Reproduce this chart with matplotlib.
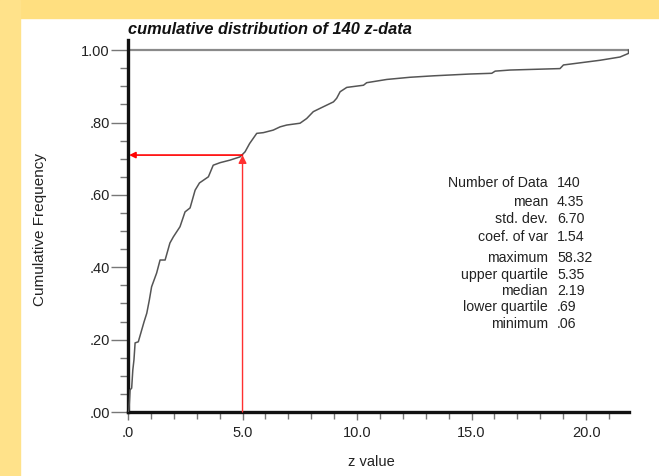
import matplotlib
matplotlib.use("Agg")
import matplotlib.pyplot as plt
from matplotlib.patches import Rectangle
from matplotlib.ticker import MultipleLocator, FixedLocator, FixedFormatter

plt.rcParams['font.family'] = ['Liberation Sans', 'DejaVu Sans']

# cumulative curve (z value, cumulative frequency)
z_vals = [0.0, 0.04, 0.09, 0.16, 0.21, 0.26, 0.31, 0.45, 0.60, 0.70, 0.82, 0.93,
          1.03, 1.25, 1.40, 1.62, 1.83, 1.98, 2.27, 2.49, 2.71, 2.93, 3.12, 3.51,
          3.72, 4.02, 4.45, 4.89, 5.11, 5.31, 5.62, 5.91, 6.34, 6.64, 6.93, 7.51,
          7.80, 8.09, 8.38, 8.97, 9.11, 9.26, 9.55, 10.28, 10.42, 11.30, 12.31,
          13.33, 14.93, 15.88, 16.03, 16.68, 18.86, 19.01, 20.61, 21.48, 21.85, 21.85]
cum_freq = [0.0, 0.006, 0.061, 0.066, 0.116, 0.144, 0.191, 0.194, 0.227, 0.249, 0.273, 0.309,
            0.346, 0.384, 0.420, 0.420, 0.467, 0.484, 0.512, 0.553, 0.564, 0.613, 0.633, 0.650,
            0.682, 0.689, 0.696, 0.705, 0.719, 0.742, 0.770, 0.772, 0.779, 0.788, 0.793, 0.798,
            0.811, 0.830, 0.839, 0.857, 0.867, 0.885, 0.897, 0.903, 0.910, 0.919, 0.925,
            0.929, 0.934, 0.936, 0.942, 0.945, 0.949, 0.959, 0.972, 0.981, 0.991, 1.0]

stat_names = ["Number of Data", "mean", "std. dev.", "coef. of var",
              "maximum", "upper quartile", "median", "lower quartile", "minimum"]
stat_values = ["140", "4.35", "6.70", "1.54", "58.32", "5.35", "2.19", ".69", ".06"]
stat_rows_px = [183, 202, 219, 237, 258, 275, 291, 307, 324]

x_major = [0, 5, 10, 15, 20]
x_labels = [".0", "5.0", "10.0", "15.0", "20.0"]
y_major = [0.0, 0.2, 0.4, 0.6, 0.8, 1.0]
y_labels = [".00", ".20", ".40", ".60", ".80", "1.00"]

arrow_z = 5.0
arrow_f = 0.71

W, H = 659, 476
fig = plt.figure(figsize=(W / 100, H / 100), dpi=100)
fig.patch.set_facecolor('white')
# yellow border strips
fig.add_artist(Rectangle((0, 1 - 18 / H), 1, 18 / H, transform=fig.transFigure,
                         color='#ffdf80', zorder=0))
fig.add_artist(Rectangle((0, 0), 20 / W, 1, transform=fig.transFigure,
                         color='#ffe28a', zorder=0))

ax = fig.add_axes([128 / W, 1 - 412 / H, (628.5 - 128) / W, (412 - 40) / H])
ax.set_facecolor('none')
ax.set_xlim(0, 21.85)
ax.set_ylim(0, 1.028)

ax.axhline(1.0, color='#8a8a8a', lw=1.6, zorder=2)
ax.plot(z_vals, cum_freq, color='#555555', lw=1.1, zorder=3)

# red arrows
ax.annotate("", xy=(0.05, arrow_f), xytext=(arrow_z, arrow_f),
            arrowprops=dict(arrowstyle='-|>', color='red', lw=1.2,
                            mutation_scale=9, shrinkA=0, shrinkB=0), zorder=4)
ax.annotate("", xy=(arrow_z, arrow_f), xytext=(arrow_z, 0),
            arrowprops=dict(arrowstyle='-|>', color='#ff3030', lw=1.0,
                            mutation_scale=12, shrinkA=0, shrinkB=0), zorder=4)

for s in ['top', 'right']:
    ax.spines[s].set_visible(False)
for s in ['left', 'bottom']:
    ax.spines[s].set_linewidth(2.4)
    ax.spines[s].set_color('#111111')

ax.xaxis.set_major_locator(FixedLocator(x_major))
ax.xaxis.set_major_formatter(FixedFormatter(x_labels))
ax.xaxis.set_minor_locator(MultipleLocator(1))
ax.yaxis.set_major_locator(FixedLocator(y_major))
ax.yaxis.set_major_formatter(FixedFormatter(y_labels))
ax.yaxis.set_minor_locator(MultipleLocator(0.05))
ax.tick_params(axis='both', which='both', direction='out', color='#777777',
               width=1, labelsize=10.5, labelcolor='#222222')
ax.tick_params(axis='y', which='major', length=12, pad=1)
ax.tick_params(axis='y', which='minor', length=6)
ax.tick_params(axis='x', which='major', length=6, pad=4)
ax.tick_params(axis='x', which='minor', length=5)

fig.text(128 / W, 1 - 29 / H, "cumulative distribution of 140 z-data",
         fontsize=11.8, fontweight='bold', fontstyle='italic', color='#111111',
         ha='left', va='center')
fig.text(40 / W, 1 - 230 / H, "Cumulative Frequency", rotation=90,
         fontsize=11, color='#222222', ha='center', va='center')
fig.text(371 / W, 1 - 462 / H, "z value", fontsize=10.5, color='#222222',
         ha='center', va='center')

for name, val, py in zip(stat_names, stat_values, stat_rows_px):
    fig.text(548 / W, 1 - py / H, name, fontsize=10.2, color='#222222',
             ha='right', va='center')
    fig.text(557 / W, 1 - py / H, val, fontsize=10.2, color='#222222',
             ha='left', va='center')

fig.savefig("out.png", dpi=100)
